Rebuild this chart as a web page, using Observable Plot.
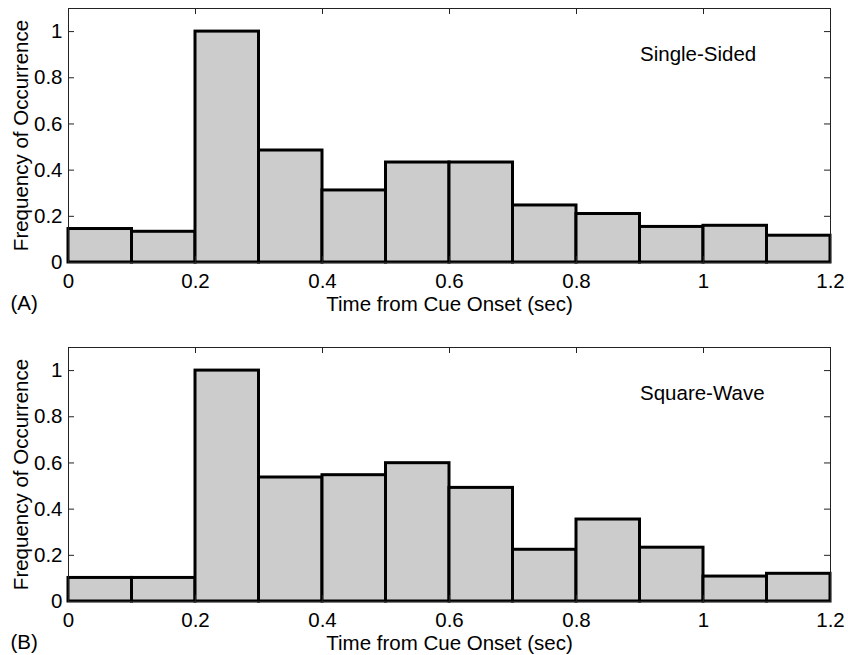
<!DOCTYPE html>
<html><head><meta charset="utf-8">
<script src="https://cdn.jsdelivr.net/npm/d3@7"></script>
<script src="https://cdn.jsdelivr.net/npm/@observablehq/plot@0.6"></script>
<style>
body{margin:0;background:#fff}
#chart svg{display:block}
</style>
</head><body><div id="chart"></div>
<script>
// Histogram bins (sec)
const binStarts = [0, 0.1, 0.2, 0.3, 0.4, 0.5, 0.6, 0.7, 0.8, 0.9, 1.0, 1.1];
const binWidth = 0.1;
// Normalized frequency of occurrence
const singleSided = [0.145, 0.133, 1.0, 0.485, 0.312, 0.433, 0.433, 0.247, 0.21, 0.154, 0.159, 0.116];
const squareWave  = [0.102, 0.102, 1.0, 0.537, 0.547, 0.599, 0.492, 0.224, 0.355, 0.233, 0.108, 0.12];
// Axis ticks
const xTicks = [0, 0.2, 0.4, 0.6, 0.8, 1, 1.2];
const yTicks = [0, 0.2, 0.4, 0.6, 0.8, 1];
const panelNames = ["Single-Sided", "Square-Wave"];
const panelTags = ["(A)", "(B)"];
const xLabel = "Time from Cue Onset (sec)";
const yLabel = "Frequency of Occurrence";
const namePos = {x: 0.9, y: 0.9};

const W = 848, ML = 68, MR = 18;
const fmt = d3.format("~g");

function panel(values, name, tag, height, marginTop, marginBottom) {
  const data = binStarts.map((s, i) => ({x1: s, x2: s + binWidth, y: values[i]}));
  const pw = W - ML - MR;
  const ph = height - marginTop - marginBottom;
  const tk = 6;
  return Plot.plot({
    width: W, height, marginLeft: ML, marginRight: MR, marginTop, marginBottom,
    style: {fontFamily: "'Liberation Sans', Arial, Helvetica, sans-serif", fontSize: "20.5px", color: "black", background: "white"},
    x: {domain: [0, 1.2]},
    y: {domain: [0, 1.1]},
    marks: [
      Plot.rectY(data, {x1: "x1", x2: "x2", y: "y", fill: "#cccccc", stroke: "black", strokeWidth: 3, inset: 0}),
      Plot.frame({stroke: "#222", strokeWidth: 1}),
      // inward ticks on all four sides
      Plot.tickY(yTicks, {y: d => d, stroke: "#222", insetRight: pw - tk}),
      Plot.tickY(yTicks, {y: d => d, stroke: "#222", insetLeft: pw - tk}),
      Plot.tickX(xTicks, {x: d => d, stroke: "#222", insetTop: ph - tk}),
      Plot.tickX(xTicks, {x: d => d, stroke: "#222", insetBottom: ph - tk}),
      Plot.axisX({ticks: xTicks, tickFormat: fmt, tickSize: 0, tickPadding: 11, label: xLabel, labelAnchor: "center", labelArrow: "none", labelOffset: 48, fill: "black"}),
      Plot.axisY({ticks: yTicks, tickFormat: fmt, tickSize: 0, tickPadding: 6, label: yLabel, labelAnchor: "center", labelArrow: "none", labelOffset: 55, fill: "black"}),
      Plot.text([name], {x: () => namePos.x, y: () => namePos.y, text: d => d, textAnchor: "start", lineAnchor: "middle", fill: "black"}),
      Plot.text([tag], {frameAnchor: "bottom-left", dx: -58, dy: 41, text: d => d, textAnchor: "start", lineAnchor: "middle", fill: "black"})
    ]
  });
}

const root = document.getElementById("chart");
root.appendChild(panel(singleSided, panelNames[0], panelTags[0], 320, 8, 58));
root.appendChild(panel(squareWave, panelNames[1], panelTags[1], 335, 27, 54));
</script>
</body></html>
